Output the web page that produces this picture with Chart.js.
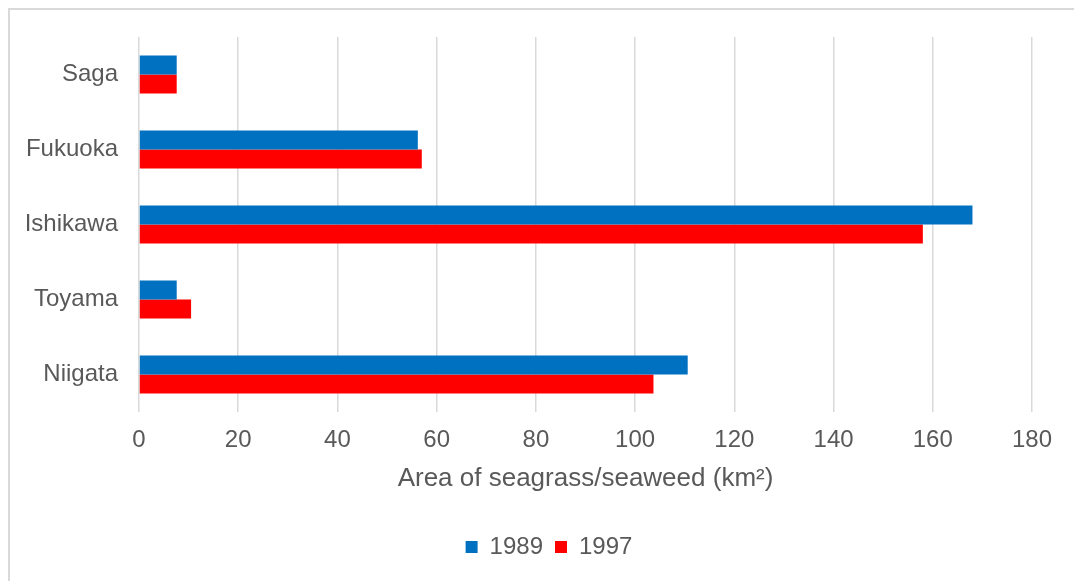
<!DOCTYPE html>
<html>
<head>
<meta charset="utf-8">
<title>Seagrass / seaweed area by prefecture</title>
<script src="https://cdn.jsdelivr.net/npm/chart.js@4/dist/chart.umd.min.js"></script>
<style>
  html, body { margin: 0; padding: 0; background: #ffffff; overflow: hidden; }
  #frame {
    position: absolute; left: 8px; top: 8px;
    width: 1082px; height: 600px;
    box-sizing: border-box;
    border: 2px solid #d9d9d9;
    background: #ffffff;
  }
  #chart { display: block; }
</style>
</head>
<body>
<div id="frame"><canvas id="chart" width="1078" height="596"></canvas></div>
<script>
// Prefectures, listed top to bottom
const prefectures = ['Saga', 'Fukuoka', 'Ishikawa', 'Toyama', 'Niigata'];
// Area of seagrass/seaweed beds (km²)
const area1989 = [7.6, 56.2, 168.0, 7.6, 110.6];
const area1997 = [7.6, 57.0, 158.0, 10.5, 103.7];
const seriesNames = ['1989', '1997'];
// Value axis ticks
const axisMin = 0;
const axisMax = 180;
const axisStep = 20;

const textColor = '#595959';
const gridColor = '#d9d9d9';
const fontFamily = '"Liberation Sans", Arial, sans-serif';

// Centre the legend on the whole frame rather than on the space left of the right margin
const legendCentre = {
  id: 'legendCentre',
  afterLayout(chart) {
    const lg = chart.legend;
    if (!lg) return;
    const shift = chart.options.layout.padding.right / 2;
    lg.left += shift;
    lg.right += shift;
  }
};

new Chart(document.getElementById('chart'), {
  type: 'bar',
  data: {
    labels: prefectures,
    datasets: [
      { label: seriesNames[0], data: area1989, backgroundColor: '#0070C0', borderWidth: 0 },
      { label: seriesNames[1], data: area1997, backgroundColor: '#FF0000', borderWidth: 0 }
    ]
  },
  options: {
    indexAxis: 'y',
    responsive: false,
    animation: false,
    devicePixelRatio: 1,
    layout: { padding: { top: 27, left: 0, right: 56, bottom: 37 } },
    datasets: { bar: { categoryPercentage: 0.507, barPercentage: 1.0 } },
    scales: {
      x: {
        min: axisMin,
        max: axisMax,
        grid: { color: gridColor, lineWidth: 1.5, drawTicks: false },
        border: { display: false },
        ticks: {
          stepSize: axisStep,
          padding: 14,
          color: textColor,
          font: { family: fontFamily, size: 24 }
        },
        title: {
          display: true,
          text: 'Area of seagrass/seaweed (km²)',
          color: textColor,
          font: { family: fontFamily, size: 26 },
          padding: { top: 0, bottom: 29 }
        },
        afterFit(scale) { scale.height = 111; }
      },
      y: {
        grid: { display: false, drawTicks: false },
        border: { display: false },
        ticks: {
          padding: 21,
          color: textColor,
          font: { family: fontFamily, size: 24 }
        },
        afterFit(scale) {
          scale.width = 129;
          // category labels sit mid-band, so no extra room is needed above/below
          scale.paddingTop = 0;
          scale.paddingBottom = 0;
        }
      }
    },
    plugins: {
      legend: {
        position: 'bottom',
        labels: {
          boxWidth: 12,
          boxHeight: 12,
          padding: 12,
          color: textColor,
          font: { family: fontFamily, size: 24 }
        }
      },
      tooltip: { enabled: false }
    }
  },
  plugins: [legendCentre]
});
</script>
</body>
</html>
